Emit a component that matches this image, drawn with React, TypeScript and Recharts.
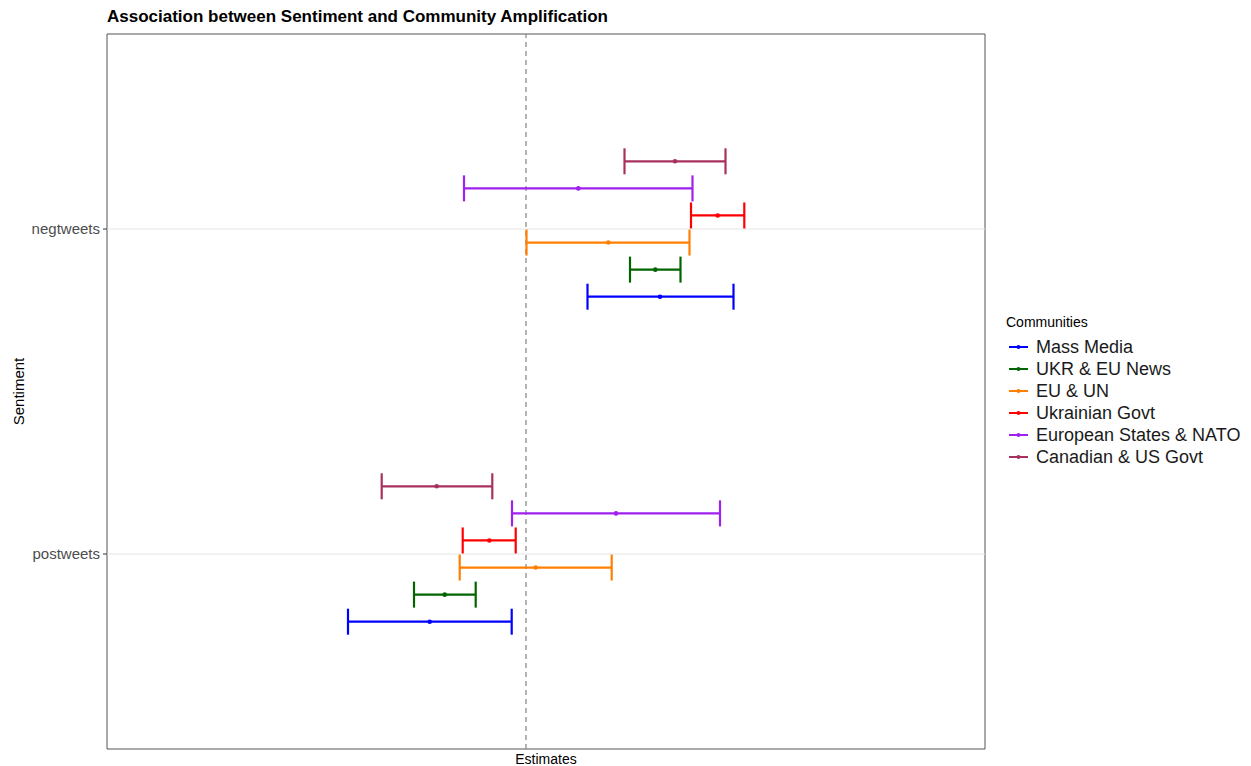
import React from 'react';
import {
  ScatterChart,
  Scatter,
  XAxis,
  YAxis,
  ErrorBar,
  ReferenceLine,
  ReferenceArea,
  Legend,
} from 'recharts';

const sentiments = ['negtweets', 'postweets'];
const sentimentPos = [2, 1];
const communities = [
  'Mass Media',
  'UKR & EU News',
  'EU & UN',
  'Ukrainian Govt',
  'European States & NATO',
  'Canadian & US Govt',
];
const colors = ['#0000FF', '#006400', '#FF7F00', '#FF0000', '#A020F0', '#A8305E'];
const dodge = [-0.2083, -0.125, -0.0417, 0.0417, 0.125, 0.2083];

const negEstimate = [1.34, 1.293, 0.823, 1.917, 0.523, 1.49];
const negLower = [0.615, 1.04, 0.005, 1.65, -0.62, 0.985];
const negUpper = [2.075, 1.545, 1.635, 2.183, 1.665, 1.995];

const posEstimate = [-0.963, -0.813, 0.097, -0.367, 0.9, -0.893];
const posLower = [-1.78, -1.12, -0.663, -0.633, -0.14, -1.443];
const posUpper = [-0.143, -0.503, 0.857, -0.103, 1.94, -0.337];

const xDomain: [number, number] = [-4.19, 4.59];
const yDomain: [number, number] = [0.4, 2.6];

const series = communities.map((name, i) => ({
  name,
  color: colors[i],
  data: [
    {
      sentiment: sentiments[0],
      x: negEstimate[i],
      y: sentimentPos[0] + dodge[i],
      err: [negEstimate[i] - negLower[i], negUpper[i] - negEstimate[i]],
    },
    {
      sentiment: sentiments[1],
      x: posEstimate[i],
      y: sentimentPos[1] + dodge[i],
      err: [posEstimate[i] - posLower[i], posUpper[i] - posEstimate[i]],
    },
  ],
}));

const FONT = '"Liberation Sans", Arial, Helvetica, sans-serif';

const LegendContent = () => (
  <svg width={255} height={170} style={{ display: 'block', fontFamily: FONT }}>
    <text x={8} y={14} fontSize={14} fill="#000" dominantBaseline="central">
      Communities
    </text>
    {communities.map((c, i) => {
      const y = 39 + i * 22;
      return (
        <g key={c}>
          <line x1={11} x2={30} y1={y} y2={y} stroke={colors[i]} strokeWidth={2} />
          <circle cx={20.5} cy={y} r={2} fill={colors[i]} />
          <text x={38} y={y} fontSize={18} fill="#1a1a1a" dominantBaseline="central">
            {c}
          </text>
        </g>
      );
    })}
  </svg>
);

export default function App() {
  return (
    <div style={{ position: 'relative', width: 1243, height: 758, fontFamily: FONT }}>
      <div
        style={{
          position: 'absolute',
          left: 99,
          top: 0,
          fontSize: 17,
          fontWeight: 'bold',
          color: '#000',
          lineHeight: '18px',
          whiteSpace: 'nowrap',
        }}
      >
        Association between Sentiment and Community Amplification
      </div>
      <ScatterChart
        width={1243}
        height={758}
        margin={{ top: 26, right: 266, bottom: 0, left: 0 }}
        style={{ fontFamily: FONT }}
      >
        <XAxis
          type="number"
          dataKey="x"
          domain={xDomain}
          allowDataOverflow
          tick={false}
          tickLine={false}
          axisLine={false}
          height={17}
          label={(props: any) => {
            const vb = props.viewBox || { x: 99, y: 741, width: 878, height: 17 };
            return (
              <text
                x={vb.x + vb.width / 2}
                y={vb.y + 10}
                textAnchor="middle"
                dominantBaseline="central"
                fontSize={14}
                fill="#000"
              >
                Estimates
              </text>
            );
          }}
        />
        <YAxis
          type="number"
          dataKey="y"
          domain={yDomain}
          allowDataOverflow
          ticks={sentimentPos}
          tickFormatter={(v: number) => sentiments[sentimentPos.indexOf(v)] ?? ''}
          width={99}
          axisLine={false}
          tickSize={4}
          tickMargin={3}
          tickLine={{ stroke: '#333333' }}
          tick={{ fontSize: 15, fill: '#4d4d4d' }}
          label={(props: any) => {
            const vb = props.viewBox || { x: 0, y: 26, width: 99, height: 715 };
            const cx = 10;
            const cy = vb.y + vb.height / 2;
            return (
              <text
                x={cx}
                y={cy}
                textAnchor="middle"
                dominantBaseline="central"
                fontSize={15}
                fill="#000"
                transform={`rotate(-90, ${cx}, ${cy})`}
              >
                Sentiment
              </text>
            );
          }}
        />
        {sentimentPos.map((p) => (
          <ReferenceLine key={p} y={p} stroke="#e6e6e6" strokeWidth={1.2} />
        ))}
        <ReferenceLine x={0} stroke="#8c8c8c" strokeDasharray="5 4" strokeWidth={1.3} />
        {series.map((s) => (
          <Scatter
            key={s.name}
            name={s.name}
            data={s.data}
            fill={s.color}
            isAnimationActive={false}
            shape={(props: any) => <circle cx={props.cx} cy={props.cy} r={2.3} fill={s.color} />}
          >
            <ErrorBar
              dataKey="err"
              direction="x"
              width={13}
              stroke={s.color}
              strokeWidth={2.2}
              isAnimationActive={false}
            />
          </Scatter>
        ))}
        <ReferenceArea
          x1={xDomain[0]}
          x2={xDomain[1]}
          y1={yDomain[0]}
          y2={yDomain[1]}
          fill="none"
          stroke="#555555"
          strokeWidth={1}
          ifOverflow="visible"
        />
        <Legend
          layout="vertical"
          align="center"
          verticalAlign="middle"
          wrapperStyle={{ left: 990, top: 300, width: 255, height: 170 }}
          content={() => <LegendContent />}
        />
      </ScatterChart>
    </div>
  );
}
